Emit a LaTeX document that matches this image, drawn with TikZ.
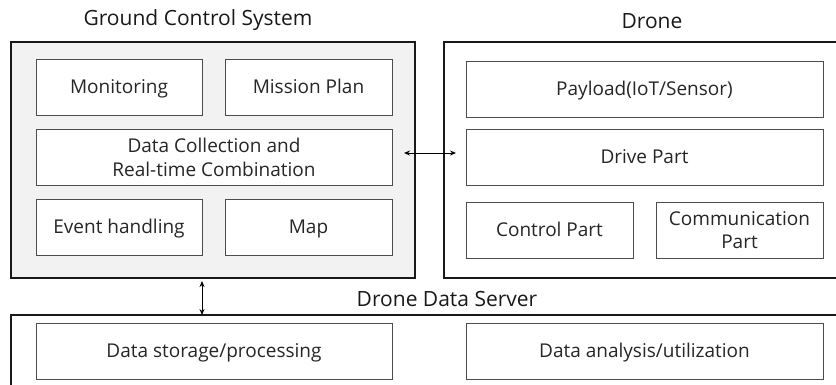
\documentclass[tikz,border=0pt]{standalone}
\usepackage{fontspec}
\setmainfont{Open Sans}
\usetikzlibrary{arrows.meta}
\begin{document}
\begin{tikzpicture}[x=1pt,y=-1pt,
  outer/.style={line width=1.8pt,draw=black!90},
  inner/.style={draw=black!70,line width=0.9pt,fill=white,inner sep=0pt,align=center,font=\fontsize{19}{24}\selectfont,text=black!85},
  one/.style={text height=17.6pt,text depth=4pt},
  title/.style={font=\fontsize{21}{25}\selectfont,text=black!90},
  biarrow/.style={line width=1pt,{Stealth[length=6pt,width=5pt]}-{Stealth[length=6pt,width=5pt]}}]
\useasboundingbox (0,0) rectangle (836,384);
% outer containers
\node[outer,fill=black!5,minimum width=404pt,minimum height=236pt,inner sep=0pt] (gcs) at (213,160) {};
\draw[outer] (836,42) -- (444,42) -- (444,278) -- (836,278);
\draw[outer] (836,315) -- (11,315) -- (11,390);
% titles
\node[title] (tgcs) at (198,20) {Ground Control System};
\node[title] (tdrone) at (652,21) {Drone};
\node[title] (tserver) at (447,299) {Drone Data Server};
% GCS inner boxes
\node[inner,one,minimum width=166pt,minimum height=56pt] (mon) at (119,87) {Monitoring};
\node[inner,one,minimum width=167pt,minimum height=56pt] (mis) at (308.5,87) {Mission Plan};
\node[inner,minimum width=356pt,minimum height=56pt] (dc) at (214,157) {Data Collection and\\Real-time Combination};
\node[inner,one,minimum width=166pt,minimum height=56pt] (ev) at (119,227) {Event handling};
\node[inner,one,minimum width=167pt,minimum height=56pt] (map) at (308.5,227) {Map};
% Drone inner boxes
\node[inner,one,minimum width=357pt,minimum height=56pt] (pay) at (644.5,89) {Payload(IoT/Sensor)};
\node[inner,one,minimum width=357pt,minimum height=56pt] (drv) at (644.5,157) {Drive Part};
\node[inner,one,minimum width=167pt,minimum height=56pt] (ctl) at (549.5,230) {Control Part};
\node[inner,minimum width=167pt,minimum height=56pt,font=\fontsize{19}{23}\selectfont] (com) at (739.5,230) {Communication\\Part};
% Server inner boxes
\node[inner,one,minimum width=356pt,minimum height=56pt] (sto) at (214,351) {Data storage/processing};
\node[inner,one,minimum width=357pt,minimum height=56pt] (ana) at (644.5,351) {Data analysis/utilization};
% arrows
\coordinate (gcsR) at (404,153);
\coordinate (drvL) at (456,153);
\draw[biarrow] (gcsR) -- (drvL);
\coordinate (gcsB) at (202,281);
\coordinate (srvT) at (202,315);
\draw[biarrow] (gcsB) -- (srvT);
\end{tikzpicture}
\end{document}
